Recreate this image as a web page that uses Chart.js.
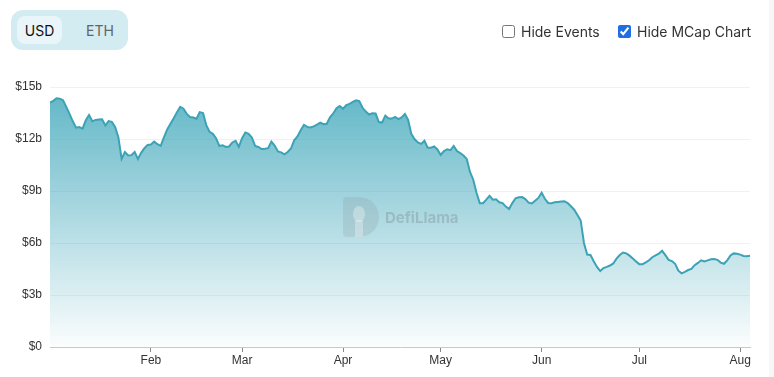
<!DOCTYPE html>
<html lang="en">
<head>
  <meta charset="UTF-8" />
  <title>TVL chart</title>
  <script src="https://cdn.jsdelivr.net/npm/chart.js"></script>
  <style>
    body { margin: 0; width: 774px; height: 377px; background: #fff; font-family: Inter, "Noto Sans", sans-serif; position: relative; overflow: hidden; }
    .chart-wrap { position: absolute; left: 0; top: 0; width: 774px; height: 377px; }
    .toggle { position: absolute; left: 11px; top: 10px; width: 117px; height: 40px; background: #d3ecf1; border-radius: 12px; }
    .toggle span { position: absolute; top: 6px; height: 28px; line-height: 30px; font-size: 14px; text-align: center; }
    .toggle .on { left: 6px; width: 45px; background: #e9f5f8; border-radius: 8px; color: #111; }
    .toggle .off { left: 69px; width: 40px; color: #5f6568; }
    .opts { position: absolute; top: 23px; font-size: 14px; color: #333; display: flex; align-items: center; }
    .opts input { margin: 0 6px 0 0; width: 13px; height: 13px; accent-color: #1d6fe3; }
    .edge { position: absolute; right: 0; top: 0; width: 5px; height: 377px; background: #f6f7f8; }
  </style>
</head>
<body>
  <div class="chart-wrap"><canvas id="chart-tvl"></canvas></div>

  <div class="toggle"><span class="on">USD</span><span class="off">ETH</span></div>
  <label class="opts" style="left:502px"><input type="checkbox" />Hide Events</label>
  <label class="opts" style="left:618px"><input type="checkbox" checked />Hide MCap Chart</label>
  <div class="edge"></div>

  <script>
    // daily TVL in $b, starting 2022-01-01 (day 0)
    const tvl = [
      14.1, 14.2, 14.35, 14.33, 14.24, 13.85, 13.45, 13.02, 12.65, 12.69,
      12.6, 13.08, 13.38, 13.02, 13.1, 13.12, 13.14, 12.78, 13.03, 12.99,
      12.7, 12.1, 10.85, 11.25, 11.05, 11.07, 11.25, 10.85, 11.2, 11.47,
      11.66, 11.68, 11.85, 11.7, 11.6, 12.1, 12.55, 12.88, 13.2, 13.55,
      13.85, 13.75, 13.45, 13.27, 13.24, 13.17, 13.55, 13.5, 12.8, 12.42,
      12.3, 12.05, 11.6, 11.64, 11.54, 11.57, 11.8, 11.9, 11.55, 12.05,
      12.38, 12.3, 12.08, 11.6, 11.54, 11.42, 11.44, 11.47, 11.85, 11.62,
      11.28, 11.23, 11.12, 11.25, 11.45, 11.92, 12.15, 12.5, 12.82, 12.7,
      12.66, 12.73, 12.83, 12.94, 12.85, 12.88, 13.25, 13.47, 13.78, 13.91,
      13.75, 13.95, 14.03, 14.14, 14.23, 14.18, 13.8, 13.58, 13.41, 13.48,
      13.47, 12.98, 12.95, 13.35, 13.18, 13.18, 13.28, 13.15, 13.25, 13.45,
      13.1, 12.28, 11.98, 11.8, 11.72, 11.9, 11.5, 11.5, 11.57, 11.4,
      11.08, 11.3, 11.41, 11.36, 11.6, 11.3, 11.19, 11.05, 10.85, 10.1,
      9.65, 8.9, 8.3, 8.3, 8.5, 8.72, 8.5, 8.52, 8.35, 8.3,
      8.1, 7.96, 8.3, 8.58, 8.64, 8.65, 8.53, 8.33, 8.28, 8.44,
      8.6, 8.9, 8.55, 8.31, 8.3, 8.35, 8.37, 8.39, 8.41, 8.3,
      8.12, 7.92, 7.62, 7.3, 6.0, 5.33, 5.31, 4.95, 4.62, 4.38,
      4.55, 4.62, 4.7, 4.82, 5.1, 5.31, 5.45, 5.4, 5.27, 5.1,
      4.93, 4.78, 4.78, 4.88, 5.0, 5.18, 5.28, 5.38, 5.55, 5.3,
      5.03, 4.96, 4.8, 4.4, 4.25, 4.33, 4.44, 4.5, 4.72, 4.85,
      5.0, 4.93, 5.0, 5.06, 5.08, 5.03, 4.87, 4.8, 5.0, 5.28,
      5.4, 5.38, 5.33, 5.25, 5.23, 5.27
    ];
    const monthTicks = [31, 59, 90, 120, 151, 181, 212];
    const monthLabels = ["Feb", "Mar", "Apr", "May", "Jun", "Jul", "Aug"];
    const yTicks = [0, 3, 6, 9, 12, 15];
    const yTickLabels = ["$0", "$3b", "$6b", "$9b", "$12b", "$15b"];

    const points = tvl.map((v, i) => ({ x: i, y: v }));

    const watermark = {
      id: "watermark",
      afterDatasetsDraw(chart) {
        const c = chart.ctx;
        c.save();
        // D-shaped logo
        c.fillStyle = "rgba(130,140,145,0.2)";
        c.beginPath();
        c.moveTo(347, 197);
        c.lineTo(359, 197);
        c.arc(359, 217, 20, -Math.PI / 2, Math.PI / 2);
        c.lineTo(347, 237);
        c.quadraticCurveTo(343, 237, 343, 233);
        c.lineTo(343, 201);
        c.quadraticCurveTo(343, 197, 347, 197);
        c.fill();
        c.fillStyle = "rgba(255,255,255,0.3)";
        c.beginPath();
        c.ellipse(359, 214, 6, 8, 0, 0, Math.PI * 2);
        c.fill();
        c.fillRect(355, 220, 8, 17);
        c.fillStyle = "rgba(110,118,122,0.3)";
        c.font = "bold 15px Inter, 'Noto Sans', sans-serif";
        c.textBaseline = "alphabetic";
        c.fillText("DefiLlama", 385, 223);
        c.restore();
      }
    };

    new Chart(document.getElementById("chart-tvl").getContext("2d"), {
      type: "line",
      data: {
        datasets: [{
          data: points,
          borderColor: "#3ca2b5",
          borderWidth: 2,
          pointRadius: 0,
          tension: 0,
          fill: "origin",
          backgroundColor: ctx => {
            const area = ctx.chart.chartArea;
            if (!area) return "rgba(59,165,185,0.4)";
            const g = ctx.chart.ctx.createLinearGradient(0, area.top, 0, area.bottom);
            g.addColorStop(0, "rgba(59,165,185,0.82)");
            g.addColorStop(1, "rgba(59,165,185,0.02)");
            return g;
          }
        }]
      },
      options: {
        responsive: true,
        maintainAspectRatio: false,
        animation: false,
        layout: { padding: { top: 87, right: 24, bottom: 0, left: 0 } },
        plugins: { legend: { display: false }, tooltip: { enabled: false } },
        scales: {
          x: {
            type: "linear",
            min: 0,
            max: 215,
            afterBuildTicks: s => { s.ticks = monthTicks.map(v => ({ value: v })); },
            afterFit: s => { s.height = 30; },
            ticks: {
              autoSkip: false,
              maxRotation: 0,
              padding: 1,
              color: "#333",
              font: { family: "'Liberation Sans', Arial", size: 12 },
              callback: v => monthLabels[monthTicks.indexOf(v)]
            },
            grid: { drawOnChartArea: false, drawTicks: true, tickLength: 5, color: "#888" },
            border: { color: "#c8c8c8" }
          },
          y: {
            min: 0,
            max: 15,
            afterBuildTicks: s => { s.ticks = yTicks.map(v => ({ value: v })); },
            afterFit: s => { s.width = 50; },
            ticks: {
              padding: 8,
              color: "#333",
              font: { family: "'Liberation Sans', Arial", size: 12 },
              callback: v => yTickLabels[yTicks.indexOf(v)]
            },
            grid: { color: "#f1f1f1", drawTicks: false },
            border: { display: false }
          }
        }
      },
      plugins: [watermark]
    });
  </script>
</body>
</html>
